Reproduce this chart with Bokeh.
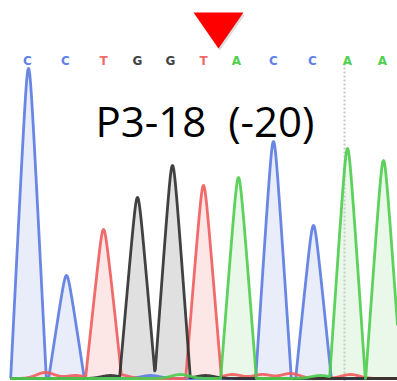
import numpy as np
from bokeh.plotting import figure
from bokeh.models import Range1d
from bokeh.core.properties import value
from bokeh.embed import file_html
from bokeh.resources import INLINE

# ---- data ----
bases = ["C", "C", "T", "G", "G", "T", "A", "C", "C", "A", "A"]
peak_pos = [28, 66, 103, 137, 172, 203, 238, 273, 313, 347, 383]
peak_height = [310, 103, 148, 181, 213, 193, 201, 237, 153, 230, 218]
letter_pos = [27, 65, 103, 137, 170, 203, 236, 273, 312, 347, 382]

# small baseline bumps (noise) per channel
noise_base = ["T", "T", "T", "A", "T", "G", "T", "T", "A", "T", "G", "C"]
noise_pos = [45, 75, 118, 180, 232, 205, 262, 290, 320, 350, 110, 150]
noise_height = [6, 3, 4, 4, 4, 3, 4, 5, 3, 4, 3, 3]

label = "P3-18\u00a0\u00a0(-20)"
mutation_x = 218
marker_x = 344

line_col = {"A": "#4ccc4c", "C": "#5a7ae0", "G": "#2e2e2e", "T": "#f05c5c"}
fill_col = {"A": "#e2f5e2", "C": "#e2e7f8", "G": "#d6d6d6", "T": "#fbdede"}
text_col = {"A": "#4fd04f", "C": "#5f80ea", "G": "#444444", "T": "#f06a6a"}

p = figure(width=397, height=381, output_backend="svg", toolbar_location=None,
           x_range=Range1d(0, 397), y_range=Range1d(-3, 378),
           min_border=0, background_fill_color="white", border_fill_color="white")
p.axis.visible = False
p.grid.visible = False
p.outline_line_color = None

xs = np.linspace(10, 397, 2000)
half_base, tip_r = 18.0, 2.5

def peak_shape(d, w, r):
    return np.clip((w - np.sqrt(d ** 2 + r ** 2)) / (w - r), 0, None)

def trace(ch):
    y = np.zeros_like(xs)
    for b, c, h in zip(bases, peak_pos, peak_height):
        if b == ch:
            y += h * peak_shape(xs - c, half_base, tip_r)
    for b, c, h in zip(noise_base, noise_pos, noise_height):
        if b == ch:
            y += h * np.exp(-0.5 * ((xs - c) / 9.0) ** 2)
    return y

order = ["C", "T", "G", "A"]
traces = {ch: trace(ch) for ch in order}

for ch in order:
    p.varea(x=xs, y1=0, y2=traces[ch], fill_color=fill_col[ch], fill_alpha=0.75)

p.segment(x0=[marker_x], y0=[-3], x1=[marker_x], y1=[316],
          line_color="#c8c8c8", line_width=2, line_dash="2 2")

for ch in order:
    p.line(xs, traces[ch], line_color=line_col[ch], line_width=2.8, line_alpha=0.9,
           line_join="round")

p.text(x=letter_pos, y=[318] * len(bases), text=bases,
       text_color=[text_col[b] for b in bases],
       text_font=value("DejaVu Sans"), text_font_style="bold",
       text_font_size="12px", text_align="center", text_baseline="middle")

p.text(x=[95], y=[258], text=[label], text_color="black",
       text_font=value("Open Sans"), text_font_size="42px",
       text_align="left", text_baseline="alphabetic")

tw, th, ttop = 25, 36, 366
p.patch([mutation_x - tw + 1.5, mutation_x + tw + 1.5, mutation_x + 1.5],
        [ttop - 2, ttop - 2, ttop - th - 2], fill_color="#999999", fill_alpha=0.35,
        line_color=None)
p.patch([mutation_x - tw, mutation_x + tw, mutation_x],
        [ttop, ttop, ttop - th], fill_color="#ff0000", line_color=None)

open("out.html", "w").write(file_html(p, INLINE))
